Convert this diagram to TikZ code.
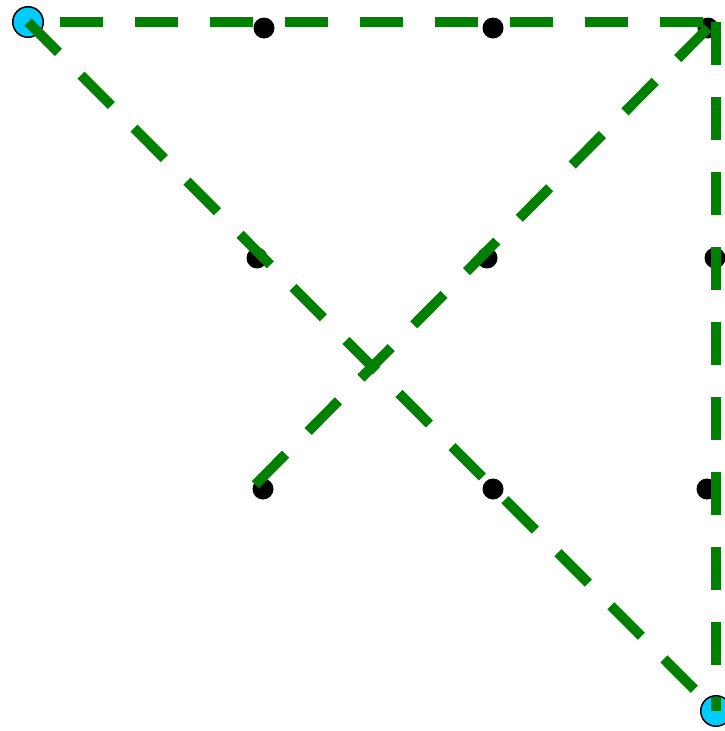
\documentclass[tikz,border=0pt]{standalone}
\usepackage{tikz}
\usetikzlibrary{positioning}
\definecolor{gridGreen}{HTML}{008000}
\definecolor{gridCyan}{HTML}{00CCFF}
\tikzset{
  gridDot/.style={circle,fill=black,inner sep=0pt,minimum size=21pt},
  gridEnd/.style={circle,fill=gridCyan,draw=black,line width=1.5pt,
                  inner sep=0pt,minimum size=30.5pt},
  gridPath/.style={draw=gridGreen,line width=10pt,dash pattern=on 43pt off 32pt}
}

\begin{document}
\begin{tikzpicture}[x=1pt,y=-1pt]
\useasboundingbox (0,0) rectangle (725,731);
% end points
\node[gridEnd] (S) at (28,22) {};
\node[gridEnd] (T) at (716,711) {};
\coordinate (C) at (716,22);
\coordinate (E) at (254,486);
% grid of dots
\node[gridDot] (A1) at (264,28) {};
\node[gridDot] (A2) at (493,28) {};
\node[gridDot] (A3) at (708,28) {};
\node[gridDot] (B1) at (257,258) {};
\node[gridDot] (B2) at (487,258) {};
\node[gridDot] (B3) at (715,258) {};
\node[gridDot] (D1) at (263,489) {};
\node[gridDot] (D2) at (493,489) {};
\node[gridDot] (D3) at (707,489) {};
% dashed paths
\draw[gridPath,dash phase=43pt] (S.center) -- (C);
\draw[gridPath] (S.center) -- (T.center);
\draw[gridPath] (A3.center) -- (E);
\draw[gridPath] (C) -- (T.center);
\end{tikzpicture}
\end{document}
